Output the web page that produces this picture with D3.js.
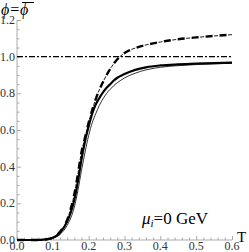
<!DOCTYPE html>
<html>
<head>
<meta charset="utf-8">
<script src="https://cdn.jsdelivr.net/npm/d3@7"></script>
<style>
  body { margin: 0; background: #fff; }
  .tick-label { font-family: "Liberation Serif", "DejaVu Serif", serif; font-size: 12px; fill: #333; }
  .lbl { font-family: "Liberation Serif", "DejaVu Serif", serif; fill: #000; }
</style>
</head>
<body>
<div id="chart"></div>
<script>
// temperatures (GeV) and order parameter values
var temps = [0, 0.05, 0.08, 0.10, 0.12, 0.14, 0.15, 0.16, 0.17, 0.18, 0.19, 0.20, 0.21, 0.22, 0.23,
             0.24, 0.25, 0.26, 0.27, 0.28, 0.30, 0.33, 0.36, 0.40, 0.45, 0.50, 0.55, 0.60];
var phiThick = [0, 0, 0.003, 0.012, 0.04, 0.10, 0.15, 0.22, 0.32, 0.44, 0.54, 0.62, 0.69, 0.74, 0.775,
                0.805, 0.83, 0.85, 0.87, 0.885, 0.905, 0.928, 0.942, 0.952, 0.958, 0.962, 0.965, 0.967];
var phiThin  = [0, 0, 0.002, 0.009, 0.03, 0.08, 0.12, 0.18, 0.27, 0.38, 0.48, 0.57, 0.64, 0.69, 0.735,
                0.77, 0.80, 0.822, 0.842, 0.858, 0.884, 0.91, 0.928, 0.942, 0.951, 0.957, 0.961, 0.964];
var phiDashed = [0, 0, 0.003, 0.013, 0.045, 0.11, 0.17, 0.25, 0.36, 0.48, 0.56, 0.64, 0.71, 0.77, 0.82,
                 0.862, 0.90, 0.933, 0.962, 0.986, 1.02, 1.047, 1.064, 1.08, 1.095, 1.105, 1.113, 1.12];
var refLevel = [1.0];

var xTicks = [0, 0.1, 0.2, 0.3, 0.4, 0.5, 0.6];
var yTicks = [0, 0.2, 0.4, 0.6, 0.8, 1.0, 1.2];

const W = 249, H = 252;

var svg = d3.select("#chart").append("svg")
  .attr("width", W).attr("height", H);

var x = d3.scaleLinear().domain([0, 0.6]).range([17, 232]);
var y = d3.scaleLinear().domain([0, 1.2]).range([240, 20]);

// axes (Mathematica style: ticks pointing inside, grey lines)
var xAxis = d3.axisTop(x).tickValues(d3.range(0, 0.6001, 0.02)).tickSizeOuter(0).tickFormat("");
var yAxis = d3.axisRight(y).tickValues(d3.range(0, 1.2001, 0.05)).tickSizeOuter(0).tickFormat("");

var gx = svg.append("g").attr("transform", "translate(0," + y(0) + ")").call(xAxis);
var gy = svg.append("g").attr("transform", "translate(" + x(0) + ",0)").call(yAxis);

gx.select(".domain").attr("stroke", "#aaa").attr("d", "M" + x(0) + ",0H" + x(0.6));
gy.select(".domain").attr("stroke", "#aaa").attr("d", "M0," + y(0) + "V" + y(1.2));
gx.selectAll(".tick line").attr("stroke", "#aaa")
  .attr("y2", function(d) { return Math.abs(d * 10 - Math.round(d * 10)) < 1e-6 ? -4 : -2.5; });
gy.selectAll(".tick line").attr("stroke", "#aaa")
  .attr("x2", function(d) { return Math.abs(d * 5 - Math.round(d * 5)) < 1e-6 ? 4 : 2.5; });

svg.selectAll(".xl").data(xTicks).enter().append("text")
  .attr("class", "tick-label")
  .attr("x", function(d) { return x(d); })
  .attr("y", 250)
  .attr("text-anchor", "middle")
  .text(function(d) { return d.toFixed(1); });

svg.selectAll(".yl").data(yTicks).enter().append("text")
  .attr("class", "tick-label")
  .attr("x", 15)
  .attr("y", function(d) { return y(d) + 4; })
  .attr("text-anchor", "end")
  .text(function(d) { return d.toFixed(1); });

// reference line at 1
svg.selectAll(".ref").data(refLevel).enter().append("line")
  .attr("x1", x(0)).attr("x2", x(0.6))
  .attr("y1", function(d) { return y(d); }).attr("y2", function(d) { return y(d); })
  .attr("stroke", "#000").attr("stroke-width", 1.1)
  .attr("stroke-dasharray", "6,2,2,2");

function series(vals) {
  return temps.map(function(t, i) { return [t, vals[i]]; });
}
var line = d3.line()
  .x(function(d) { return x(d[0]); })
  .y(function(d) { return y(d[1]); })
  .curve(d3.curveMonotoneX);

svg.append("path").datum(series(phiThin))
  .attr("fill", "none").attr("stroke", "#000").attr("stroke-width", 0.8)
  .attr("d", line);

svg.append("path").datum(series(phiThick))
  .attr("fill", "none").attr("stroke", "#000").attr("stroke-width", 2.2)
  .attr("d", line);

// dashed curve: thick dashes with thin dashes in between
svg.append("path").datum(series(phiDashed))
  .attr("fill", "none").attr("stroke", "#000").attr("stroke-width", 2.4)
  .attr("stroke-dasharray", "7,7")
  .attr("d", line);
svg.append("path").datum(series(phiDashed))
  .attr("fill", "none").attr("stroke", "#000").attr("stroke-width", 0.9)
  .attr("stroke-dasharray", "4,10").attr("stroke-dashoffset", 5.5)
  .attr("d", line);

// labels
var yl = svg.append("text").attr("class", "lbl").attr("x", 1).attr("y", 15).style("font-size", "16px");
yl.append("tspan").style("font-style", "italic").text("ϕ=");
yl.append("tspan").style("font-style", "italic").text("ϕ");
svg.append("line").attr("x1", 22).attr("x2", 34).attr("y1", 2.5).attr("y2", 2.5)
  .attr("stroke", "#000").attr("stroke-width", 1);

svg.append("text").attr("class", "lbl").attr("x", 237).attr("y", 242)
  .style("font-size", "15px").text("T");

var mu = svg.append("text").attr("class", "lbl").attr("x", 142).attr("y", 224).style("font-size", "17px");
mu.append("tspan").style("font-style", "italic").text("μ");
mu.append("tspan").style("font-style", "italic").style("font-size", "11px").attr("dy", 3).text("i");
mu.append("tspan").attr("dy", -3).text("=0 GeV");
</script>
</body>
</html>
